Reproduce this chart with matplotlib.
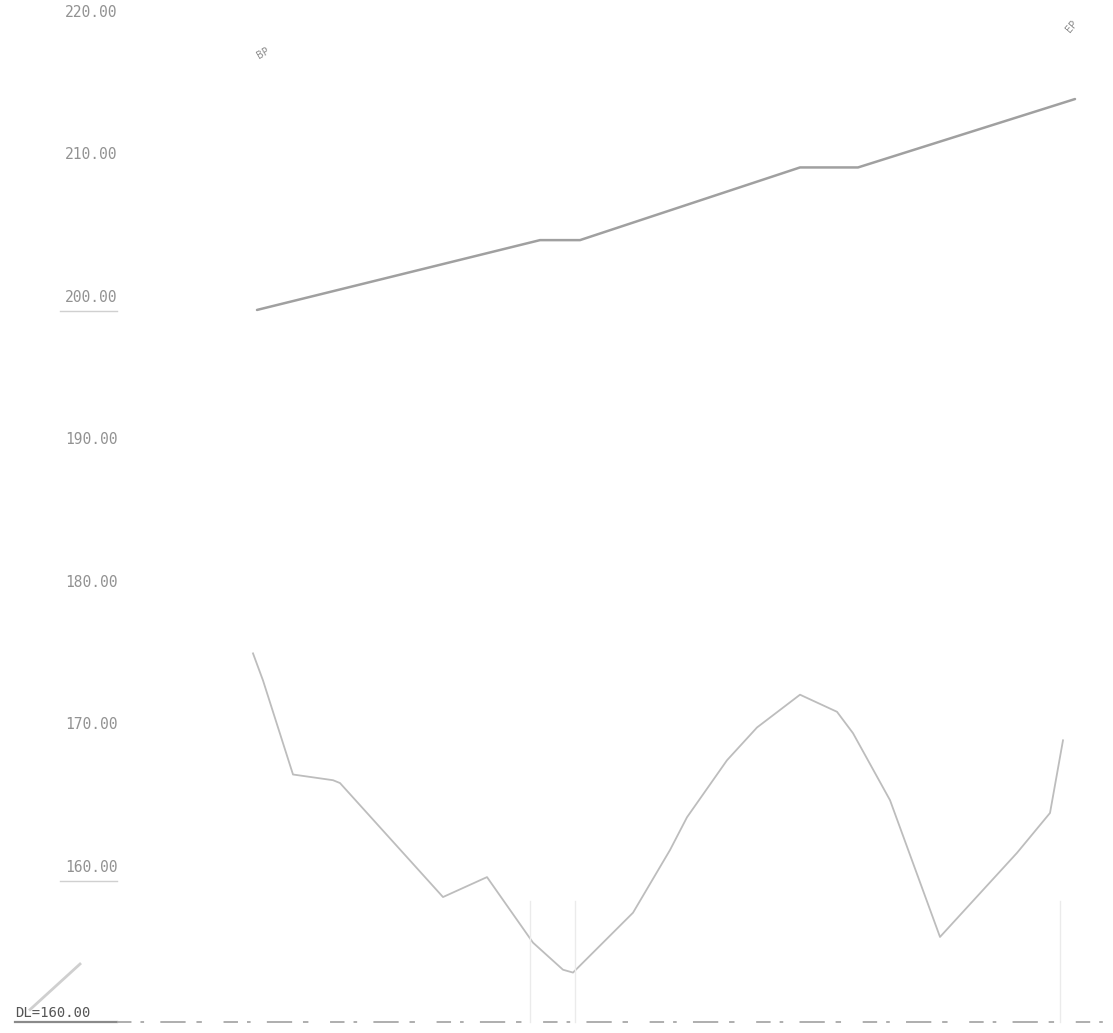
import matplotlib
matplotlib.use("Agg")
import matplotlib.pyplot as plt

# --- data (chainage in m, elevation in m) ---
grade_chainage = [0, 283, 323, 543, 601, 818]
grade_elev = [200.0, 204.9, 204.9, 210.0, 210.0, 214.8]

ground_chainage = [-4, 6, 36, 76, 83, 186, 230, 276, 306, 316, 376, 413, 430,
                   470, 500, 543, 580, 596, 633, 683, 760, 793, 806]
ground_elev = [175.9, 174.0, 167.4, 167.0, 166.8, 158.8, 160.2, 155.6, 153.7,
               153.5, 157.7, 162.1, 164.4, 168.4, 170.7, 173.0, 171.8, 170.3,
               165.6, 156.0, 161.9, 164.7, 169.8]

tick_levels = [220, 210, 200, 190, 180, 170, 160]
tick_labels = ["220.00", "210.00", "200.00", "190.00", "180.00", "170.00", "160.00"]
datum_level = 150
datum_label = "DL=160.00"
station_lines = [273, 318, 803]
stub_chainage = [-227, -177]
stub_elev = [150.9, 154.1]

fig = plt.figure(figsize=(11.13, 10.33), dpi=100)
ax = fig.add_axes([0, 0, 1, 1])
ax.set_xlim(-257, 856)
ax.set_ylim(149.26, 221.75)
ax.axis("off")

# grade line
ax.plot(grade_chainage, grade_elev, color="#a0a0a0", lw=1.8, solid_capstyle="round")
# ground line
ax.plot(ground_chainage, ground_elev, color="#bdbdbd", lw=1.3)
# small stub at lower left
ax.plot(stub_chainage, stub_elev, color="#cfcfcf", lw=2.0)

# station lines
for s in station_lines:
    ax.plot([s, s], [datum_level, 158.5], color="#ebebeb", lw=1.0)

# datum line (solid part + broken, faded part)
ax.plot([-242, -140], [datum_level, datum_level], color="#8a8a8a", lw=1.6)
ax.plot([-140, 856], [datum_level, datum_level], color="#a8a8a8",
        lw=1.3, dashes=(8, 5, 2, 9, 14, 6, 3, 12))

# tick labels
for lv, lab in zip(tick_levels, tick_labels):
    ax.text(-192, lv + 0.35, lab, fontsize=10.5, family="DejaVu Sans Mono",
            color="#929292", ha="left", va="bottom")
for lv in (200, 160):
    ax.plot([-197, -140], [lv - 0.1, lv - 0.1], color="#d0d0d0", lw=1.0)

ax.text(-242, datum_level + 0.2, datum_label, fontsize=10,
        family="DejaVu Sans Mono", color="#555555", ha="left", va="bottom")

# BP / EP markers
ax.text(grade_chainage[0] + 6, 218.0, "BP", fontsize=7, rotation=30,
        color="#8a8a8a", ha="center", va="center")
ax.text(grade_chainage[-1] - 3, 219.9, "EP", fontsize=7, rotation=50,
        color="#8a8a8a", ha="center", va="center")

fig.savefig("out.png", dpi=100, facecolor="white")
